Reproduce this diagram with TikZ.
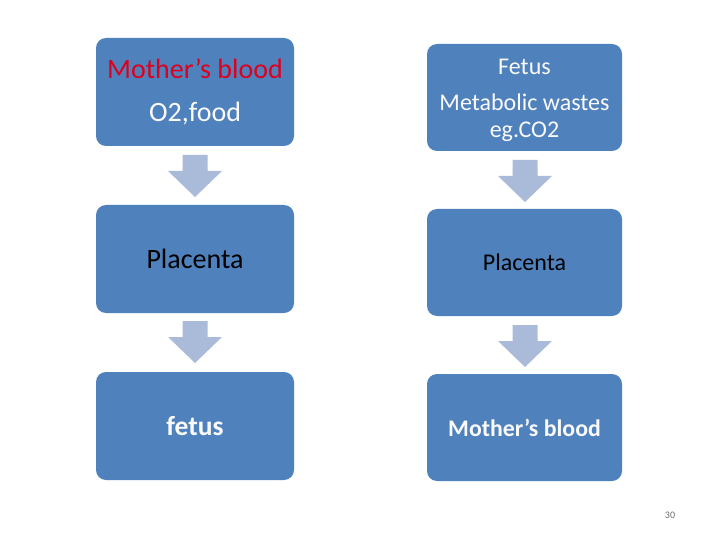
\documentclass[tikz,border=0pt]{standalone}
\usepackage{fontspec}
\setmainfont{Carlito}
\definecolor{boxblue}{RGB}{79,129,189}
\definecolor{arrowblue}{RGB}{170,187,218}
\definecolor{titlered}{RGB}{222,0,28}
\definecolor{offwhite}{RGB}{250,250,250}
\definecolor{numgray}{RGB}{110,110,110}
\newcommand\bigdownarrow[3]{% name, center x, top y
  \fill[arrowblue] (#2-12.5,#3) -- (#2+12.5,#3) -- (#2+12.5,#3+16) -- (#2+27,#3+16)
    -- (#2,#3+42) -- (#2-27,#3+16) -- (#2-12.5,#3+16) -- cycle;
  \coordinate (#1) at (#2,#3);}
\begin{document}
\begin{tikzpicture}[x=1pt,y=-1pt,
  flowbox/.style={fill=boxblue, rounded corners=10pt, inner sep=0pt, align=center, text=offwhite},
  leftbox/.style={flowbox, minimum width=198pt, minimum height=108pt, font=\fontsize{28}{33}\selectfont},
  rightbox/.style={flowbox, minimum width=195pt, minimum height=107pt, font=\fontsize{24}{27}\selectfont}]
\useasboundingbox (0,0) rectangle (720,540);
\fill[white] (0,0) rectangle (720,540);
% left column
\node[leftbox] (l1) at (195,92) {\textcolor{titlered}{Mother’s blood}\\[10pt]O2,food};
\node[leftbox, text=black] (l2) at (195,259) {Placenta};
\node[leftbox, font=\fontsize{27.5}{33}\selectfont\bfseries] (l3) at (195,426) {fetus};
% right column
\node[rightbox] (r1) at (524.5,97.5) {};
\node[font=\fontsize{24}{27}\selectfont, text=offwhite, align=center, inner sep=0pt] (r1t) at ([yshift=-2.5pt]r1.center) {Fetus\\[9pt]Metabolic wastes\\eg.CO2};
\node[rightbox, text=black] (r2) at (524.5,262.5) {Placenta};
\node[rightbox, font=\fontsize{23.8}{27}\selectfont\bfseries] (r3) at (524.5,427.5) {Mother’s blood};
% block arrows
\bigdownarrow{a1}{195}{155}
\bigdownarrow{a2}{195}{321}
\bigdownarrow{a3}{525}{160}
\bigdownarrow{a4}{525}{325}
% page number
\node[text=numgray, font=\fontsize{10}{12}\selectfont, inner sep=0pt] (pg) at (670,515) {30};
\end{tikzpicture}
\end{document}
